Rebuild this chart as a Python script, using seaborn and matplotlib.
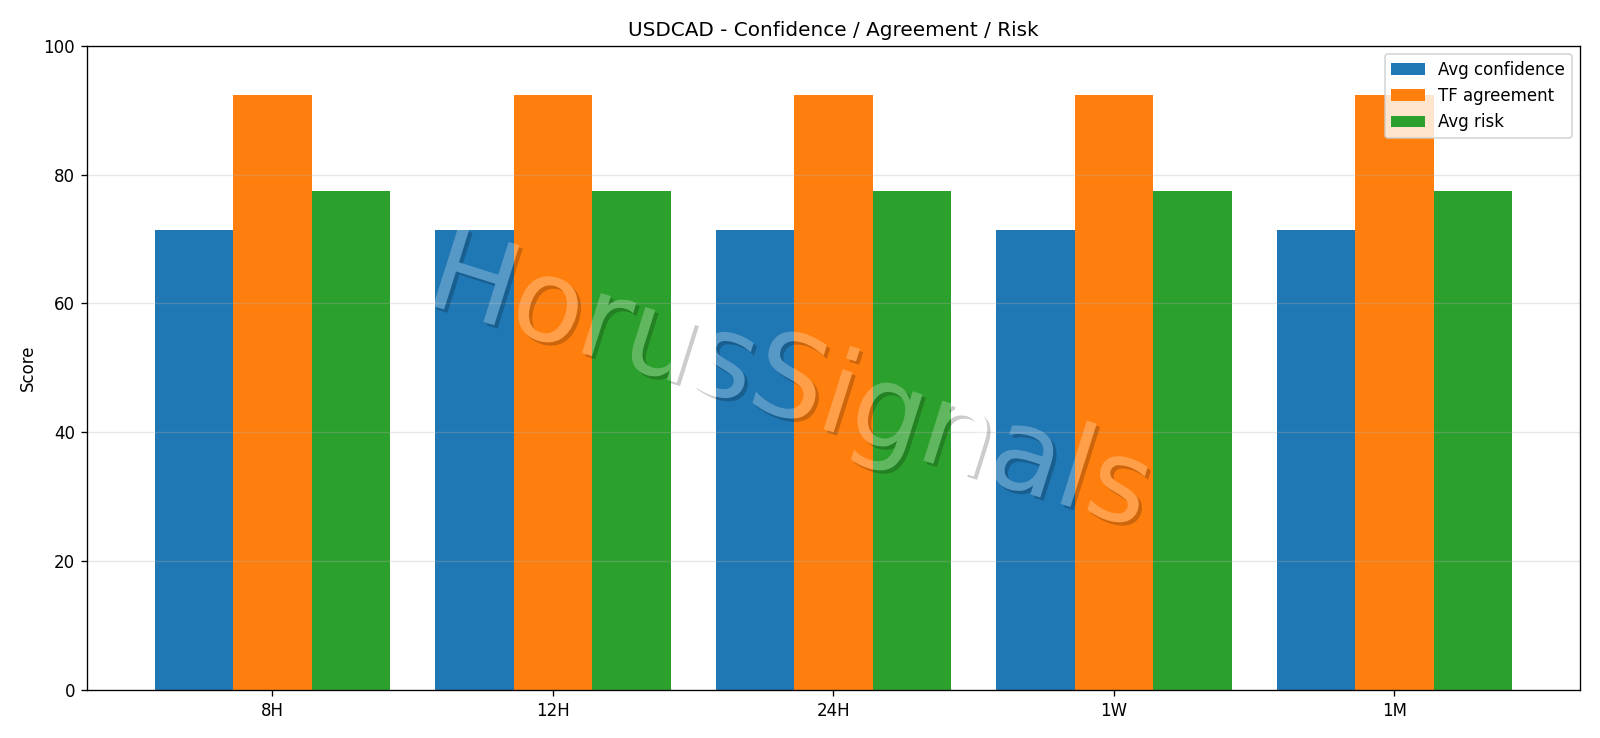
import matplotlib
matplotlib.use("Agg")
import numpy as np
import matplotlib.pyplot as plt
import matplotlib.patheffects as pe
from matplotlib.path import Path
from matplotlib.transforms import IdentityTransform, TransformedPath
import seaborn as sns
import pandas as pd

timeframes = ["8H", "12H", "24H", "1W", "1M"]
avg_confidence = [71.4, 71.4, 71.4, 71.4, 71.4]
tf_agreement = [92.3, 92.3, 92.3, 92.3, 92.3]
avg_risk = [77.5, 77.5, 77.5, 77.5, 77.5]
series_names = ["Avg confidence", "TF agreement", "Avg risk"]
colors = ["#1f77b4", "#ff7f0e", "#2ca02c"]

rows = []
for name, vals in zip(series_names, [avg_confidence, tf_agreement, avg_risk]):
    for tf, v in zip(timeframes, vals):
        rows.append({"Timeframe": tf, "Series": name, "Score": v})
df = pd.DataFrame(rows)


class OutsideShadow(pe.AbstractPathEffect):
    """Drop shadow drawn only where the glyph itself does not cover it."""

    def __init__(self, offset=(2, -2), color="black", alpha=0.2):
        super().__init__(offset)
        self._color = color
        self._alpha = alpha

    def draw_path(self, renderer, gc, tpath, affine, rgbFace):
        glyph = affine.transform_path(tpath)
        polys = glyph.to_polygons(closed_only=True)
        sign = 1.0
        best = 0.0
        for p in polys:
            x, y = p[:, 0], p[:, 1]
            a = 0.5 * np.sum(x[:-1] * y[1:] - x[1:] * y[:-1])
            if abs(a) > best:
                best = abs(a)
                sign = np.sign(a) if a != 0 else 1.0
        W, H = renderer.width + 20, renderer.height + 20
        rect = np.array([[-20, -20], [W, -20], [W, H], [-20, H], [-20, -20]], float)
        ra = 0.5 * np.sum(rect[:-1, 0] * rect[1:, 1] - rect[1:, 0] * rect[:-1, 1])
        if np.sign(ra) == sign:
            rect = rect[::-1]
        rect_path = Path(rect, [Path.MOVETO, Path.LINETO, Path.LINETO, Path.LINETO, Path.CLOSEPOLY])
        clip = Path.make_compound_path(rect_path, glyph)
        gc0 = renderer.new_gc()
        gc0.copy_properties(gc)
        gc0.set_clip_path(TransformedPath(clip, IdentityTransform()))
        gc0.set_foreground(self._color)
        gc0.set_alpha(self._alpha)
        gc0.set_linewidth(0)
        renderer.draw_path(gc0, tpath, affine + self._offset_transform(renderer),
                           matplotlib.colors.to_rgb(self._color))
        gc0.restore()


fig = plt.figure(figsize=(1600 / 120, 738 / 120), dpi=120)
ax = fig.add_axes([0.0542, 0.065, 0.9333, 0.873])

sns.barplot(data=df, x="Timeframe", y="Score", hue="Series", order=timeframes,
            hue_order=series_names, palette=colors, saturation=1, width=0.84,
            errorbar=None, ax=ax, linewidth=0)

ax.set_xlim(-0.662, 4.662)
ax.set_ylim(0, 100)
ax.set_xlabel("")
ax.set_ylabel("Score")
ax.set_title("USDCAD - Confidence / Agreement / Risk")
ax.grid(axis="y", alpha=0.3)
ax.set_axisbelow("line")
ax.legend(loc="upper right")

fig.text(790 / 1600, 1 - 385 / 738, "HorusSignals", fontsize=69, color="white",
         alpha=0.25, rotation=-17.5, ha="center", va="center",
         path_effects=[OutsideShadow(offset=(2, -2), color="black", alpha=0.2), pe.Normal()])

fig.savefig("out.png", dpi=120)
